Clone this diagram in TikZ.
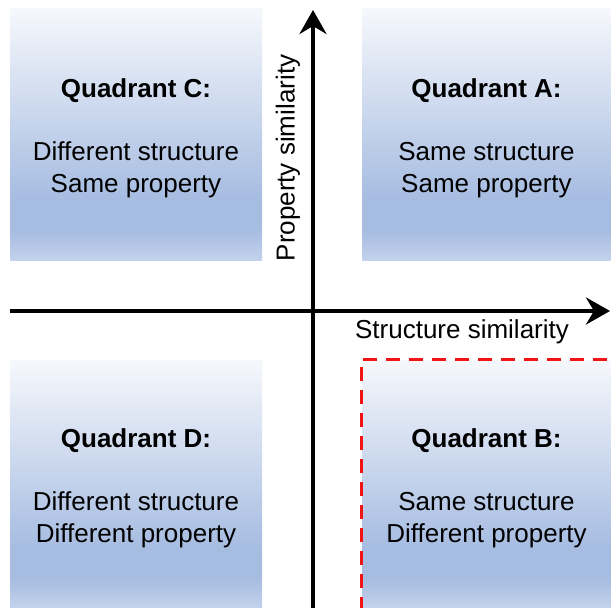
\documentclass[tikz,border=0pt]{standalone}
\usepackage{fontspec}
\setmainfont{Liberation Sans}
\usepackage{xcolor}
\usetikzlibrary{arrows.meta,positioning}
\definecolor{quadtop}{RGB}{246, 248, 252}
\definecolor{quadmid}{RGB}{166, 188, 225}
\definecolor{quadlow}{RGB}{196, 210, 236}
\definecolor{focusred}{RGB}{240, 20, 20}
% the middle 50bp of the shading is stretched over the box
\pgfdeclareverticalshading{quadfill}{100bp}{color(0bp)=(quadlow); color(25bp)=(quadlow); color(31bp)=(quadmid); color(37bp)=(quadmid); color(75bp)=(quadtop); color(100bp)=(quadtop)}

\begin{document}
\begin{tikzpicture}[
    x=1pt, y=-1pt,
    every text node part/.style={align=center},
    quad/.style={shading=quadfill, minimum height=252pt, inner sep=0pt},
    quadtext/.style={inner sep=0pt, font=\fontsize{26}{32}\selectfont},
    axis/.style={-{Stealth[length=24pt, width=27pt, inset=8pt]}, line width=4pt, draw=black},
    axislabel/.style={font=\fontsize{26}{30}\selectfont, inner sep=0pt}
]
\useasboundingbox (0,0) rectangle (611,608);

% Nodes
\node (qc) [quad, minimum width=252pt] at (136,134) {};
\node (qa) [quad, minimum width=249pt] at (486.5,134) {};
\node (qd) [quad, minimum width=252pt, minimum height=248pt] at (136,484) {};
\node (qb) [quad, minimum width=249pt, minimum height=248pt] at (486.5,484) {};

\node (qctext) [quadtext] at ([yshift=-4pt]qc.center)
    {\textbf{Quadrant C:}\\[31pt] Different structure\\ Same property};
\node (qatext) [quadtext] at ([yshift=-4pt]qa.center)
    {\textbf{Quadrant A:}\\[31pt] Same structure\\ Same property};
\node (qdtext) [quadtext] at ([yshift=-4pt]qd.center)
    {\textbf{Quadrant D:}\\[31pt] Different structure\\ Different property};
\node (qbtext) [quadtext] at ([yshift=-4pt]qb.center)
    {\textbf{Quadrant B:}\\[31pt] Same structure\\ Different property};

% highlight of quadrant B
\draw [focusred, line width=3.2pt, dash pattern=on 14pt off 9pt]
    ([yshift=-3pt]qb.south west) -- (qb.north west) -- (qb.north east);

% Axes
\coordinate (xfrom) at (10,311);
\coordinate (xto) at (610,311);
\coordinate (yfrom) at (313,608);
\coordinate (yto) at (313,10);
\draw [axis] (xfrom) -- (xto);
\draw [axis] (yfrom) -- (yto);

\node (xlabel) [axislabel] at (462,332) {Structure similarity};
\node (ylabel) [axislabel, rotate=90] at (288,158) {Property similarity};

\end{tikzpicture}
\end{document}
